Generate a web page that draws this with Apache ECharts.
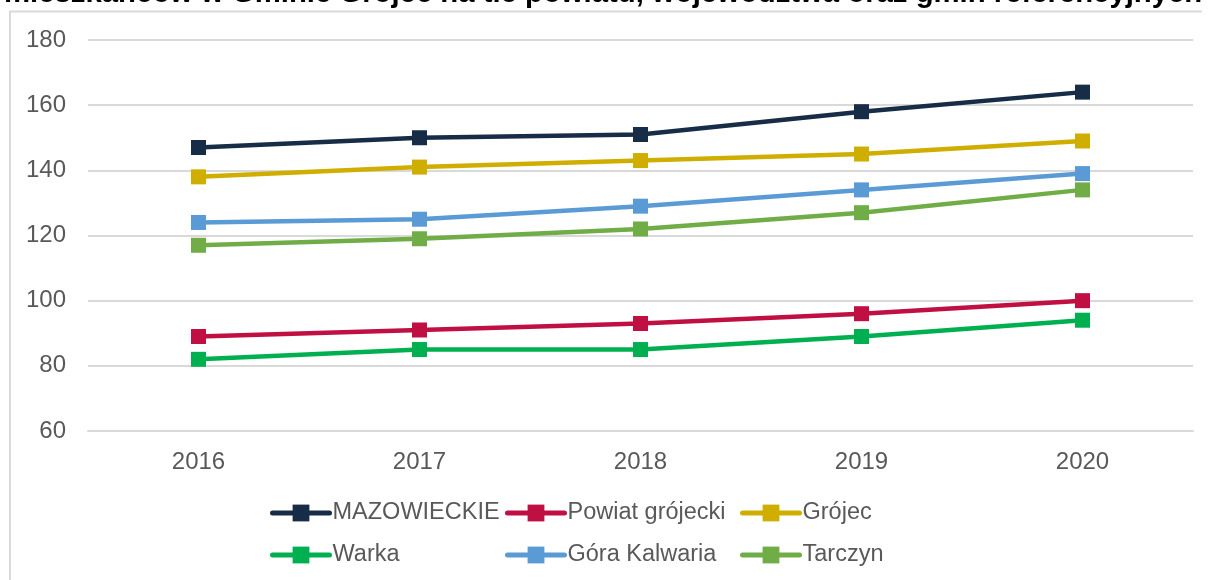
<!DOCTYPE html>
<html>
<head>
<meta charset="utf-8">
<script src="https://cdn.jsdelivr.net/npm/echarts@6/dist/echarts.min.js"></script>
<style>
  html, body { margin: 0; padding: 0; background: #fff; }
  #chart { width: 1211px; height: 580px; }
</style>
</head>
<body>
<div id="chart"></div>
<script>
// dane
const years = ['2016', '2017', '2018', '2019', '2020']
const mazowieckie = [147, 150, 151, 158, 164]
const powiatGrojecki = [89, 91, 93, 96, 100]
const grojec = [138, 141, 143, 145, 149]
const warka = [82, 85, 85, 89, 94]
const goraKalwaria = [124, 125, 129, 134, 139]
const tarczyn = [117, 119, 122, 127, 134]

const names = ['MAZOWIECKIE', 'Powiat grójecki', 'Grójec', 'Warka', 'Góra Kalwaria', 'Tarczyn']
const values = [mazowieckie, powiatGrojecki, grojec, warka, goraKalwaria, tarczyn]
const colors = ['#172C46', '#C00F42', '#CFAE00', '#00B050', '#5B9BD5', '#70AD47']

const font = 'Liberation Sans, Arial, sans-serif'
const chart = echarts.init(document.getElementById('chart'))

const series = names.map((name, i) => ({
  name: name,
  type: 'line',
  data: values[i],
  symbol: 'rect',
  symbolSize: 15,
  color: colors[i],
  lineStyle: { width: 4.5, color: colors[i] },
  itemStyle: { color: colors[i] },
  z: 10 - i
}))

// legenda w trzech kolumnach
const legendCol = (left, items) => ({
  orient: 'vertical',
  left: left,
  top: 496,
  itemWidth: 57,
  itemHeight: 21,
  itemGap: 18,
  data: items,
  lineStyle: { width: 5, cap: 'round' },
  textStyle: { fontFamily: font, fontSize: 23.5, color: '#595959', lineHeight: 24, padding: [0, 0, 0, -2] }
})

chart.setOption({
  animation: false,
  backgroundColor: '#fff',
  graphic: [
    {
      type: 'polyline',
      shape: { points: [[10, 600], [10, 11.5], [1202, 11.5]] },
      style: { stroke: '#D9D9D9', lineWidth: 2, fill: null }
    },
    {
      type: 'text',
      left: 4,
      top: -21,
      style: {
        text: 'mieszkańców w Gminie Grójec na tle powiatu, województwa oraz gmin referencyjnych',
        font: 'bold 29.3px ' + font,
        fill: '#000'
      }
    }
  ],
  grid: { left: 88, right: 18, top: 40, bottom: 149, containLabel: false },
  legend: [
    legendCol(265, ['MAZOWIECKIE', 'Warka']),
    legendCol(500, ['Powiat grójecki', 'Góra Kalwaria']),
    legendCol(735, ['Grójec', 'Tarczyn'])
  ],
  xAxis: {
    type: 'category',
    data: years,
    boundaryGap: true,
    axisLine: { show: true, lineStyle: { color: '#D9D9D9', width: 2 } },
    axisTick: { show: false },
    axisLabel: { margin: 19, fontFamily: font, fontSize: 24, color: '#595959' }
  },
  yAxis: {
    type: 'value',
    min: 60,
    max: 180,
    interval: 20,
    axisLine: { show: false },
    axisTick: { show: false },
    axisLabel: { margin: 22, fontFamily: font, fontSize: 24, color: '#595959' },
    splitLine: { lineStyle: { color: '#D9D9D9', width: 2 } }
  },
  series: series
})
</script>
</body>
</html>
